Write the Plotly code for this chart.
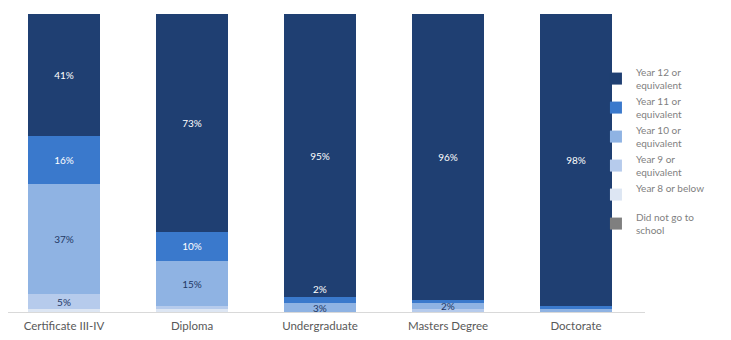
import plotly.graph_objects as go

categories = ["Certificate III-IV", "Diploma", "Undergraduate", "Masters Degree", "Doctorate"]

series_names = ["Did not go to<br>school", "Year 8 or below<br> ", "Year 9 or<br>equivalent",
                "Year 10 or<br>equivalent", "Year 11 or<br>equivalent", "Year 12 or<br>equivalent"]

did_not_go = [0, 0, 0, 0, 0]
year8 = [1, 1, 0, 0, 0]
year9 = [5, 1, 0, 1, 0]
year10 = [37, 15, 3, 2, 1]
year11 = [16, 10, 2, 1, 1]
year12 = [41, 73, 95, 96, 98]

colors = ["#7f7f7f", "#dde6f3", "#b6cbec", "#8fb3e3", "#3a79cc", "#1f3f72"]
text_colors = ["#ffffff", "#1f3864", "#1f3864", "#1f3864", "#ffffff", "#ffffff"]

all_values = [did_not_go, year8, year9, year10, year11, year12]
MIN_LABEL = 2
SMALL = 4

fig = go.Figure()
annotations = []
for i, (name, vals) in enumerate(zip(series_names, all_values)):
    labels = [f"{v}%" if v >= SMALL else "" for v in vals]
    fig.add_trace(go.Bar(
        x=categories, y=vals, name=name,
        marker=dict(color=colors[i], line=dict(width=0)),
        text=labels, textposition="inside", insidetextanchor="middle",
        textfont=dict(color=text_colors[i], size=10, family="Lato"),
        cliponaxis=False,
    ))

# small segments labelled via annotations placed with the data axis
for j, cat in enumerate(categories):
    base = 0
    prev_small_labelled = False
    for i, vals in enumerate(all_values):
        v = vals[j]
        if MIN_LABEL <= v < SMALL:
            if prev_small_labelled:
                annotations.append(dict(x=cat, y=base + v, yanchor="bottom", text=f"{v}%",
                                        showarrow=False,
                                        font=dict(size=10, color="#ffffff", family="Lato")))
            else:
                annotations.append(dict(x=cat, y=base + v / 2, yanchor="middle", text=f"{v}%",
                                        showarrow=False,
                                        font=dict(size=10, color=text_colors[i], family="Lato")))
            prev_small_labelled = True
        base += v

fig.update_layout(
    barmode="stack",
    bargap=0.4375,
    width=731, height=340,
    margin=dict(l=0, r=94, t=6, b=36),
    paper_bgcolor="white", plot_bgcolor="white",
    font=dict(family="Lato", size=11, color="#595959"),
    uniformtext=dict(minsize=10, mode="show"),
    showlegend=True,
    annotations=annotations,
    legend=dict(
        x=0.923, xanchor="left", y=0.54, yanchor="middle",
        traceorder="reversed",
        font=dict(size=10, color="#7f7f7f", family="Lato"),
        itemwidth=30, itemsizing="constant",
        bgcolor="rgba(0,0,0,0)",
    ),
    yaxis=dict(range=[0, 100], visible=False, fixedrange=True),
    xaxis=dict(showline=True, linecolor="#d9d9d9", linewidth=1, ticks="",
               range=[-0.4375, 4.539], ticklabelstandoff=3,
               tickfont=dict(size=11.5, color="#595959")),
)

fig.write_html("out.html")
